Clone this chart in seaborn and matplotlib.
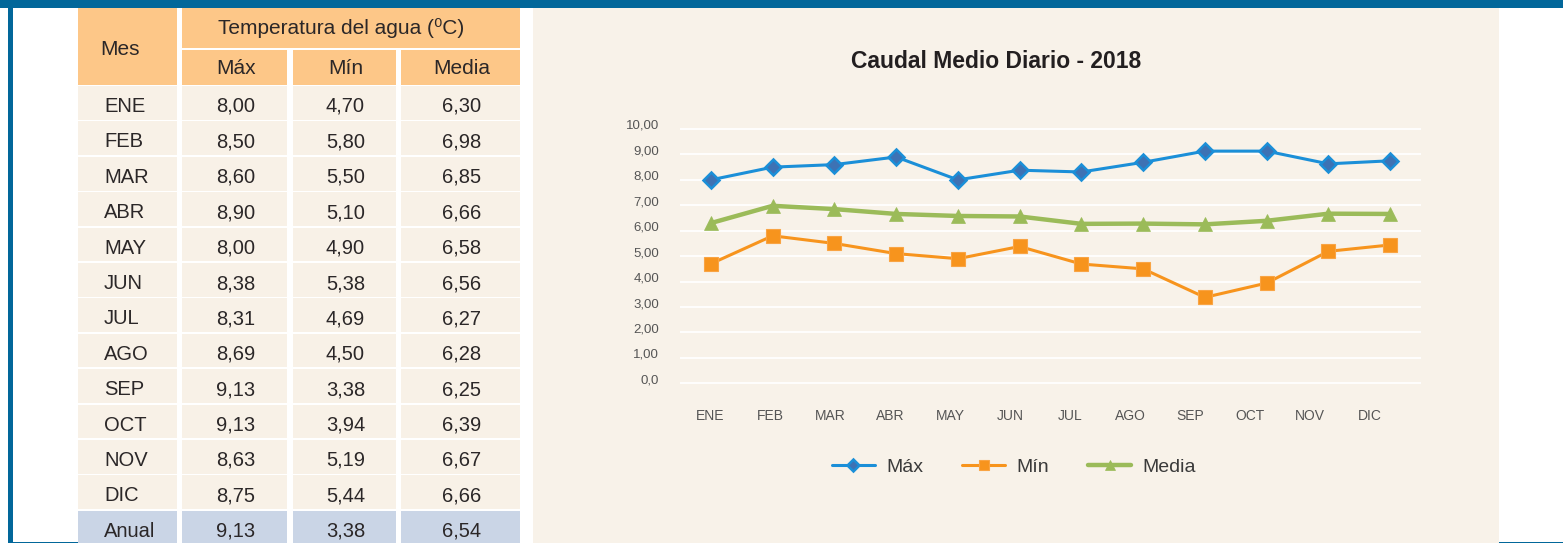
import numpy as np
import matplotlib
matplotlib.use("Agg")
import matplotlib.pyplot as plt
from matplotlib.patches import Rectangle
import seaborn as sns

# ---- data ---------------------------------------------------------------
meses = ["ENE", "FEB", "MAR", "ABR", "MAY", "JUN",
         "JUL", "AGO", "SEP", "OCT", "NOV", "DIC"]
maxima = [8.00, 8.50, 8.60, 8.90, 8.00, 8.38, 8.31, 8.69, 9.13, 9.13, 8.63, 8.75]
minima = [4.70, 5.80, 5.50, 5.10, 4.90, 5.38, 4.69, 4.50, 3.38, 3.94, 5.19, 5.44]
media = [6.30, 6.98, 6.85, 6.66, 6.58, 6.56, 6.27, 6.28, 6.25, 6.39, 6.67, 6.66]
anual_etiqueta = "Anual"
anual_valores = [9.13, 3.38, 6.54]

series_nombres = ["Máx", "Mín", "Media"]
y_ticks = list(range(0, 11))
y_tick_labels = ["0,0", "1,00", "2,00", "3,00", "4,00", "5,00",
                 "6,00", "7,00", "8,00", "9,00", "10,00"]
titulo = "Caudal Medio Diario - 2018"
encabezado_mes = "Mes"
encabezado_temp = "Temperatura del agua (⁰C)"

# ---- colours ------------------------------------------------------------
AZUL_MARCO = "#02679A"
PANEL = "#F8F2E9"
NARANJA_CAB = "#FDC788"
CREMA = "#F8F1E7"
AZUL_ANUAL = "#CAD5E6"
TXT = "#2B2728"
GRIS = "#555555"
C_MAX, C_MAX_FACE = "#1B8FD8", "#3D72B4"
C_MIN = "#F7941D"
C_MED = "#9BBB59"

sns.set_style("white")
plt.rcParams["font.family"] = ["Liberation Sans", "DejaVu Sans"]


def fmt(v):
    return f"{v:.2f}".replace(".", ",")


W, H = 1563, 543
fig = plt.figure(figsize=(W / 100, H / 100), dpi=100)
fig.patch.set_facecolor("white")

# pixel-based background layer for frame, panel and table
bg = fig.add_axes([0, 0, 1, 1], zorder=0)
bg.set_xlim(0, W)
bg.set_ylim(H, 0)
bg.axis("off")


def box(x0, y0, x1, y1, color):
    bg.add_patch(Rectangle((x0, y0), x1 - x0, y1 - y0,
                           facecolor=color, edgecolor="none", lw=0))


# frame
box(0, 0, W, 7.6, AZUL_MARCO)
box(8.3, 0, 12.6, H, AZUL_MARCO)
box(8.3, 541.6, 77.7, H, AZUL_MARCO)
box(1498.5, 541.6, W, H, AZUL_MARCO)
# chart panel
box(533, 7.6, 1498.5, H, PANEL)

# ---- table --------------------------------------------------------------
cols = [(77.7, 176.9), (182.3, 287.3), (292.7, 396.0), (401.0, 520.0)]
box(cols[0][0], 7.6, cols[0][1], 84.5, NARANJA_CAB)
box(cols[1][0], 7.6, cols[3][1], 47.7, NARANJA_CAB)
for a, b in cols[1:]:
    box(a, 50.0, b, 84.5, NARANJA_CAB)

FS_TAB = 14.5
bg.text(100, 55.2, encabezado_mes, ha="left", va="baseline",
        fontsize=15, color=TXT)
bg.text(341, 34.3, encabezado_temp, ha="center", va="baseline",
        fontsize=15, color=TXT)
for (a, b), nombre in zip(cols[1:], series_nombres):
    bg.text((a + b) / 2 + 1, 74.0, nombre, ha="center", va="baseline",
            fontsize=15, color=TXT)

filas = [(m, [mx, mn, md]) for m, mx, mn, md in zip(meses, maxima, minima, media)]
filas.append((anual_etiqueta, anual_valores))
for i, (etiqueta, valores) in enumerate(filas):
    top = 86.0 + 35.4 * i
    bottom = min(top + 33.7, H)
    color = AZUL_ANUAL if etiqueta == anual_etiqueta else CREMA
    for a, b in cols:
        box(a, top, b, bottom, color)
    base = top + 26.0
    bg.text(104, base, etiqueta, ha="left", va="baseline",
            fontsize=FS_TAB, color=TXT)
    for (a, b), v in zip(cols[1:], valores):
        bg.text((a + b) / 2 + 1, base, fmt(v), ha="center", va="baseline",
                fontsize=FS_TAB, color=TXT)

# ---- line chart ---------------------------------------------------------
PX_UNIT = 25.43
y0_px = 383.3
ylo, yhi = -0.1, 10.1
top_px = y0_px - yhi * PX_UNIT
bot_px = y0_px - ylo * PX_UNIT
x_left, x_right = 680, 1421
ax = fig.add_axes([x_left / W, 1 - bot_px / H, (x_right - x_left) / W,
                   (bot_px - top_px) / H], zorder=2)
ax.set_facecolor("none")

posicion = np.arange(len(meses))
sns.lineplot(x=posicion, y=maxima, ax=ax, color=C_MAX, lw=2.2,
             marker="D", markersize=8.5, markerfacecolor=C_MAX_FACE,
             markeredgecolor=C_MAX, markeredgewidth=1.8, label=series_nombres[0])
sns.lineplot(x=posicion, y=minima, ax=ax, color=C_MIN, lw=2.2,
             marker="s", markersize=9.5, markerfacecolor=C_MIN,
             markeredgecolor="#F9A443", markeredgewidth=0.8, label=series_nombres[1])
sns.lineplot(x=posicion, y=media, ax=ax, color=C_MED, lw=3.2,
             marker="^", markersize=10, markerfacecolor=C_MED,
             markeredgecolor=C_MED, markeredgewidth=0.5, label=series_nombres[2])

ax.set_xlim(-0.5, len(meses) - 0.5)
ax.set_ylim(ylo, yhi)
ax.set_xticks([])
ax.set_yticks(y_ticks)
ax.set_yticklabels(y_tick_labels, fontsize=9.5, color=GRIS)
ax.tick_params(axis="y", length=0, pad=15)
for t in ax.get_yticklabels():
    t.set_verticalalignment("baseline")
ax.grid(axis="y", color="white", lw=1.3)
ax.grid(axis="x", visible=False)
ax.set_axisbelow(True)
ax.set_xlabel("")
ax.set_ylabel("")
for s in ax.spines.values():
    s.set_visible(False)

handles, labels = ax.get_legend_handles_labels()
if ax.get_legend() is not None:
    ax.get_legend().remove()

# month labels on a companion axis
ax2 = ax.twiny()
ax2.set_xlim(-0.5, 11.85)
ax2.set_xticks(posicion)
ax2.set_xticklabels(meses, fontsize=10, color=GRIS)
ax2.xaxis.set_ticks_position("bottom")
ax2.tick_params(axis="x", length=0, pad=17)
ax2.set_facecolor("none")
for s in ax2.spines.values():
    s.set_visible(False)

fig.text(996 / W, 1 - 67.7 / H, titulo, ha="center", va="baseline",
         fontsize=16.5, weight="bold", color="#231F20")

fig.legend(handles, labels, loc="center", bbox_to_anchor=(1014 / W, 1 - 467 / H),
           ncol=3, frameon=False, fontsize=14, handlelength=2.2,
           handletextpad=0.6, columnspacing=2.0, markerscale=0.75,
           labelcolor="#3A3A3A")

fig.savefig("out.png", dpi=100, facecolor="white")
